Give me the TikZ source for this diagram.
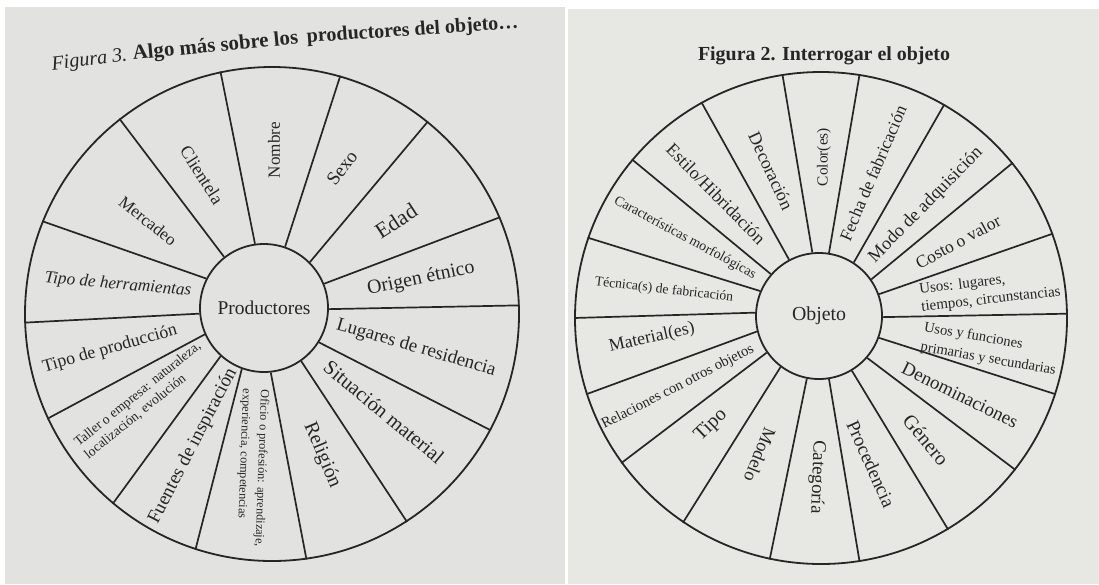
\documentclass[tikz,border=0pt]{standalone}
\usepackage{fontspec}
\setmainfont{Liberation Serif}
\usepackage{graphicx}
\definecolor{ink}{RGB}{38,38,36}
\definecolor{pageL}{RGB}{226,227,224}
\definecolor{pageR}{RGB}{231,231,228}
\newcommand{\fitto}[2]{\resizebox{#1pt}{!}{#2}}
\tikzset{
  lab/.style={inner sep=0pt, text=ink},
  spoke/.style={draw=ink, line width=1.7pt},
  wheel/.style={circle, draw=ink, line width=1.8pt, inner sep=0pt},
}
\begin{document}
\begin{tikzpicture}[x=1pt,y=-1pt]
\useasboundingbox (0,0) rectangle (1099,584);
\fill[white] (0,0) rectangle (1099,584);
\fill[pageL] (5,7) rectangle (565,584);
\fill[pageR] (568,9) rectangle (1099,584);

% ---------------- left wheel ----------------
\node[wheel, minimum size=494pt] (OL) at (272,314) {};
\node[wheel, minimum size=128pt, text=ink] (PL) at (264,308) {\fitto{93}{Productores}};
\foreach \a/\b in {98.7/102.4, 71.6/74.9, 45/51.6, 22.3/23.7, -1/2.1,
  -32.7/-28.2, -55.3/-57.1, -84.6/-82.1, -110.6/-108, -132/-130.8,
  -156.5/-155.9, -175.7/-178.6, 153.8/158.2, 128.4/128.4}
  \draw[spoke] (PL.\a) -- (OL.\b);

\node[lab, rotate=90] (L1) at (274,150) {\fitto{56}{Nombre}};
\node[lab, rotate=52.5] (L2) at (342,168) {\fitto{38}{Sexo}};
\node[lab, rotate=33] (L3) at (396,221) {\fitto{45}{Edad}};
\node[lab, rotate=11.6] (L4) at (421,279) {\fitto{109}{Origen étnico}};
\node[lab, rotate=-16.2] (L5) at (416,348) {\fitto{165}{Lugares de residencia}};
\node[lab, rotate=-39.6] (L6) at (384,412) {\fitto{149}{Situación material}};
\node[lab, rotate=-67] (L7) at (322,455) {\fitto{69}{Religión}};
\node[lab, rotate=-92] (L8) at (253,468) {\fontsize{12.3}{18}\selectfont\begin{tabular}{@{}l@{}}Oficio o profesión: aprendizaje,\\experiencia, competencias\end{tabular}};
\node[lab, rotate=62.6] (L9) at (193,446) {\fitto{172}{Fuentes de inspiración}};
\node[lab, rotate=39] (L10) at (143,401) {\fontsize{13.6}{16}\selectfont\begin{tabular}{@{}l@{}}Taller o empresa: naturaleza,\\localización, evolución\end{tabular}};
\node[lab, rotate=15.8] (L11) at (110,349) {\fitto{139}{Tipo de producción}};
\node[lab, rotate=-5] (L12) at (118,285) {\fitto{147}{\itshape Tipo de herramientas}};
\node[lab, rotate=-38.4] (L13) at (148,221) {\fitto{68}{Mercadeo}};
\node[lab, rotate=-57.5] (L14) at (202,175) {\fitto{65}{Clientela}};

% title left
\node[lab, anchor=base, rotate=6.8] (T3a) at (90,65.5) {\fitto{76}{\itshape Figura 3.}};
\node[lab, anchor=base, rotate=5.6] (T3b) at (216,51.8) {\fitto{166}{\bfseries Algo más sobre los}};
\node[lab, anchor=base, rotate=3.85] (T3c) at (413,35.6) {\fitto{212}{\bfseries productores del objeto…}};

% ---------------- right wheel ----------------
\node[wheel, minimum size=492pt] (OR) at (821,318) {};
\node[wheel, minimum size=126pt, text=ink] (PR) at (819,316) {\fitto{54}{Objeto}};
\foreach \a/\b in {96.3/99.9, 81.9/81.7, 57.3/60.5, 35.1/39.7, 20/20.5,
  -1.8/1.4, -20.9/-18.9, -41.9/-38.3, -59.5/-59.7, -81.6/-81.5,
  -101/-102.5, -127.4/-124, -145.6/-144.9, -166/-162.1, 177.4/180,
  157.2/161.9, 139.8/140.7, 118.1/119.6}
  \draw[spoke] (PR.\a) -- (OR.\b);

\node[lab, rotate=90] (R1) at (824,157) {\fitto{58}{Color(es)}};
\node[lab, rotate=66.8] (R2) at (873,173) {\fitto{145}{Fecha de fabricación}};
\node[lab, rotate=45.5] (R3) at (926,205) {\fitto{154}{Modo de adquisición}};
\node[lab, rotate=28.5] (R4) at (958,242) {\fitto{94}{Costo o valor}};
\node[lab, rotate=6.5] (R5) at (990,291) {\fontsize{15}{18}\selectfont\begin{tabular}{@{}l@{}}Usos: lugares,\\tiempos, circunstancias\end{tabular}};
\node[lab, rotate=-10] (R6) at (990,349) {\fontsize{14.5}{20}\selectfont\begin{tabular}{@{}l@{}}Usos y funciones\\primarias y secundarias\end{tabular}};
\node[lab, rotate=-26.2] (R7) at (960,395) {\fitto{127}{Denominaciones}};
\node[lab, rotate=-49.8] (R8) at (926,440) {\fitto{59}{Género}};
\node[lab, rotate=-65.9] (R9) at (871,464) {\fitto{93}{Procedencia}};
\node[lab, rotate=-92] (R10) at (817,477) {\fitto{73}{Categoría}};
\node[lab, rotate=-112] (R11) at (760,455) {\fitto{57}{Modelo}};
\node[lab, rotate=44] (R12) at (711,425) {\fitto{37}{Tipo}};
\node[lab, rotate=27.2] (R13) at (678,387) {\fitto{169}{Relaciones con otros objetos}};
\node[lab, rotate=12.6] (R14) at (652,338) {\fitto{87}{Material(es)}};
\node[lab, rotate=-6.6] (R15) at (664,290) {\fitto{139}{Técnica(s) de fabricación}};
\node[lab, rotate=-28.2] (R16) at (685,238) {\fitto{159}{Características morfológicas}};
\node[lab, rotate=-45.6] (R17) at (716,194) {\fitto{133}{Estilo/Hibridación}};
\node[lab, rotate=-65] (R18) at (771,171) {\fitto{83}{Decoración}};

% title right
\node[lab, anchor=base] (T2) at (824,60) {\fitto{252}{\bfseries Figura 2. Interrogar el objeto}};
\end{tikzpicture}
\end{document}
